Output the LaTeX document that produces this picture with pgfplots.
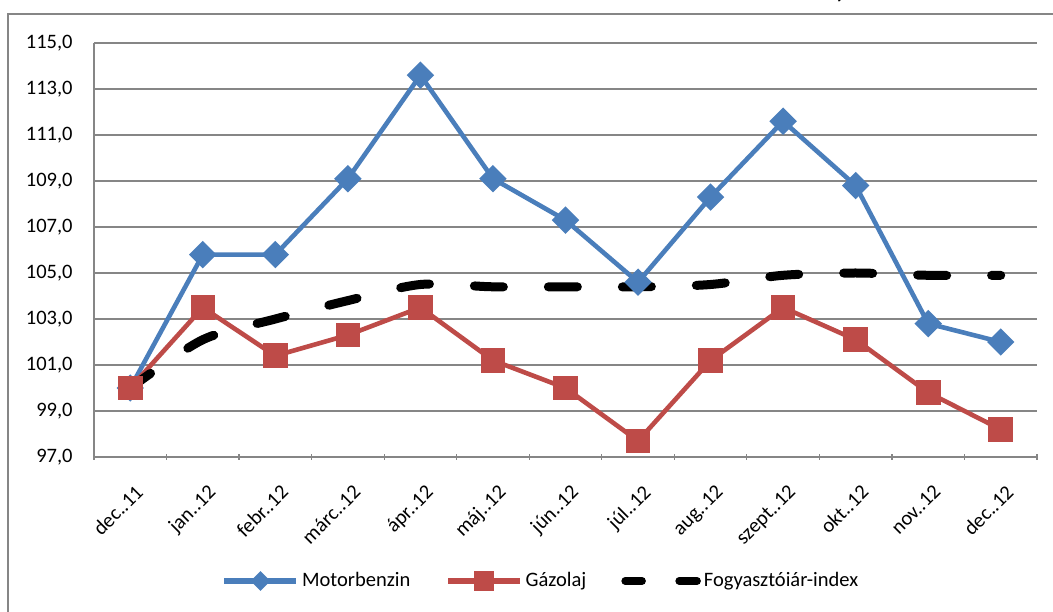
\documentclass[border=0pt]{standalone}
\usepackage{fontspec}
\setmainfont{Carlito}
\usepackage{pgfplots}
\pgfplotsset{compat=1.18}
\definecolor{gridgray}{HTML}{868686}
\definecolor{mblue}{HTML}{4A7EBB}
\definecolor{gred}{HTML}{BE4B48}
\begin{document}
\fontsize{10.3}{12.4}\selectfont
\begin{tikzpicture}
\useasboundingbox (0,0) rectangle (526.5bp,306bp);
\draw[gridgray, line width=0.75bp] (4bp,-20bp) -- (4bp,299bp) -- (560bp,299bp);
\node[anchor=base, inner sep=0pt, font=\bfseries\fontsize{12}{14}\selectfont] at (419bp,306.8bp) {(};
\begin{axis}[
  at={(47bp,77.5bp)}, anchor=south west,
  width=471.5bp, height=207bp, scale only axis,
  xmin=-0.5, xmax=12.5, ymin=97, ymax=115,
  ytick={97,99,...,115},
  xtick={0,...,12},
  xticklabels={dec..11,jan..12,febr..12,márc..12,ápr..12,máj..12,jún..12,júl..12,aug..12,szept..12,okt..12,nov..12,dec..12},
  minor xtick={-0.5,0.5,...,12.5},
  major tick length=0pt,
  minor tick length=2.5bp,
  tick align=outside,
  tick style={gridgray, line width=0.6bp},
  axis x line=bottom, axis y line=left,
  axis line style={-, draw=gridgray, line width=0.6bp},
  ymajorgrids,
  major grid style={gridgray, line width=0.6bp},
  yticklabel style={/pgf/number format/.cd, fixed, fixed zerofill, precision=1, use comma, assume math mode=true, /tikz/.cd, anchor=east, inner sep=0pt, xshift=-10.5bp},
  xticklabel style={xshift=2bp, yshift=-13bp, rotate=45, anchor=north east, inner sep=0pt},
  ticklabel style={font=\fontsize{10.3}{12.4}\selectfont},
  clip=false,
  legend columns=3,
  legend style={at={(0.4746,-0.2995)}, anchor=center, draw=none, fill=none,
    font=\fontsize{10.3}{12.4}\selectfont,
    nodes={inner sep=1.5bp},
    /tikz/every even column/.append style={column sep=16bp}},
]
\addplot[mblue, line width=2.3bp, mark=square*, mark size=3.7bp, mark options={rotate=45, solid, fill=mblue},
  legend image code/.code={\draw[mblue, line width=2.6bp, mark=square*, mark size=2.2bp, mark options={rotate=45, fill=mblue}, mark repeat=2, mark phase=2] plot coordinates {(0bp,0bp) (18bp,0bp) (36bp,0bp)};}]
coordinates {(0,100.0) (1,105.8) (2,105.8) (3,109.1) (4,113.6) (5,109.1) (6,107.3) (7,104.6) (8,108.3) (9,111.6) (10,108.8) (11,102.8) (12,102.0)};
\addlegendentry{Motorbenzin}
\addplot[gred, line width=2.3bp, mark=square*, mark size=5bp, mark options={solid, fill=gred},
  legend image code/.code={\draw[gred, line width=2.6bp, mark=square*, mark size=3.75bp, mark options={fill=gred}, mark repeat=2, mark phase=2] plot coordinates {(0bp,0bp) (18bp,0bp) (36bp,0bp)};}]
coordinates {(0,100.0) (1,103.5) (2,101.4) (3,102.3) (4,103.5) (5,101.2) (6,100.0) (7,97.7) (8,101.2) (9,103.5) (10,102.1) (11,99.8) (12,98.2)};
\addlegendentry{Gázolaj}
\addplot[black, line width=4.5bp, line cap=round, dash pattern=on 14.5bp off 22.5bp, dash phase=2bp, smooth,
  legend image code/.code={\draw[black, line width=3.75bp, line cap=round, dash pattern=on 10.5bp off 18.5bp] (0bp,0bp) -- (36bp,0bp);}]
coordinates {(0,100.0) (1,102.1) (2,103.0) (3,103.8) (4,104.5) (5,104.4) (6,104.4) (7,104.4) (8,104.5) (9,104.9) (10,105.0) (11,104.9) (12,104.9)};
\addlegendentry{Fogyasztóiár-index}
\end{axis}
\end{tikzpicture}
\end{document}
